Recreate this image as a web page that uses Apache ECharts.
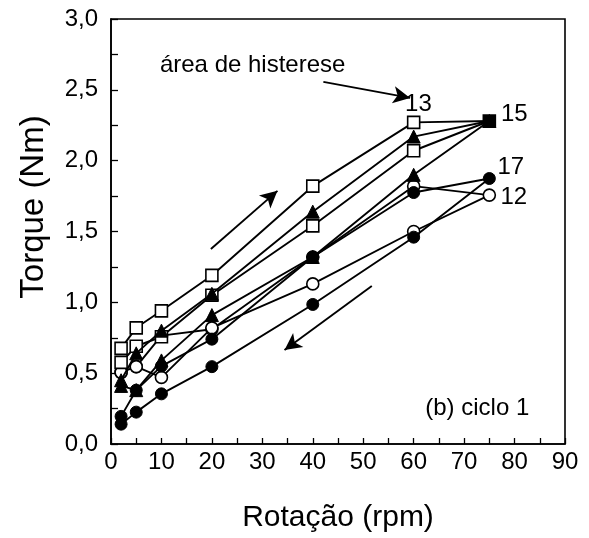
<!DOCTYPE html>
<html>
<head>
<meta charset="utf-8">
<script src="https://cdn.jsdelivr.net/npm/echarts@6/dist/echarts.min.js"></script>
<style>
html,body{margin:0;padding:0;background:#fff;}
#chart{width:589px;height:538px;}
</style>
</head>
<body>
<div id="chart"></div>
<script>
// rotation values along each hysteresis loop (up then down)
const rpm = [2, 5, 10, 20, 40, 60, 75, 60, 40, 20, 10, 5, 2];
const squares13 = [0.675, 0.82, 0.94, 1.19, 1.82, 2.27, 2.28, 2.07, 1.54, 1.05, 0.757, 0.69, 0.576];
const triangles15 = [0.45, 0.64, 0.80, 1.06, 1.64, 2.17, 2.28, 1.90, 1.32, 0.91, 0.59, 0.38, 0.41];
const openCircles12 = [0.506, 0.546, 0.765, 0.81, 1.32, 1.82, 1.757, 1.50, 1.13, 0.82, 0.47, 0.546, 0.506];
const filledCircles17 = [0.195, 0.38, 0.55, 0.74, 1.32, 1.775, 1.874, 1.46, 0.985, 0.546, 0.354, 0.225, 0.14];

const xTicks = [0, 10, 20, 30, 40, 50, 60, 70, 80, 90];
const yTicks = ['0,0', '0,5', '1,0', '1,5', '2,0', '2,5', '3,0'];

// annotations (data coordinates)
const seriesLabels = [
  { text: '13', x: 58.3, y: 2.40 },
  { text: '15', x: 77.3, y: 2.325 },
  { text: '17', x: 76.6, y: 1.95 },
  { text: '12', x: 77.2, y: 1.74 }
];
const noteHyst = { text: 'área de histerese', x: 9.7, y: 2.67 };
const noteCycle = { text: '(b) ciclo 1', x: 62.3, y: 0.25 };
const arrows = [
  [[42.1, 2.556], [59.3, 2.443]],
  [[19.8, 1.377], [33.0, 1.787]],
  [[51.7, 1.115], [34.4, 0.663]]
];

const FONT = 'Liberation Sans';
const chart = echarts.init(document.getElementById('chart'), null, { renderer: 'canvas' });

function pts(ys) { return rpm.map((x, i) => [x, ys[i]]); }

const openStyle = { color: '#fff', borderColor: '#000', borderWidth: 1.6 };
const filledStyle = { color: '#000', borderColor: '#000', borderWidth: 1 };
const lineStyle = { color: '#000', width: 1.9 };

const sqData = pts(squares13).map((p, i) => rpm[i] === 75 ? { value: p, itemStyle: { color: '#000' } } : p);

chart.setOption({
  animation: false,
  backgroundColor: '#fff',
  grid: { left: 111, top: 19, right: 24, bottom: 92, show: true, borderColor: '#000', borderWidth: 1.6, backgroundColor: 'transparent' },
  xAxis: {
    type: 'value', min: 0, max: 90, interval: 5,
    name: 'Rotação (rpm)', nameLocation: 'middle', nameGap: 59,
    nameTextStyle: { fontFamily: FONT, fontSize: 30, color: '#000' },
    axisLine: { show: true, lineStyle: { color: '#000', width: 1.6 } },
    axisTick: { show: true, inside: true, length: 6, lineStyle: { color: '#000', width: 1.3 } },
    axisLabel: {
      fontFamily: FONT, fontSize: 24, color: '#000', margin: 6,
      formatter: v => xTicks.indexOf(v) >= 0 ? String(v) : ''
    },
    splitLine: { show: false }
  },
  yAxis: {
    type: 'value', min: 0, max: 3, interval: 0.5,
    axisLine: { show: true, lineStyle: { color: '#000', width: 1.6 } },
    axisTick: { show: true, inside: true, length: 7, lineStyle: { color: '#000', width: 1.3 } },
    minorTick: { show: true, splitNumber: 2, length: 7, lineStyle: { color: '#000', width: 1.3 } },
    axisLabel: {
      fontFamily: FONT, fontSize: 24, color: '#000', margin: 13,
      formatter: v => yTicks[Math.round(v * 2)]
    },
    splitLine: { show: false }
  },
  series: [
    {
      name: '12', type: 'line', data: pts(openCircles12), symbol: 'circle', symbolSize: 12,
      lineStyle, itemStyle: openStyle, z: 2
    },
    {
      name: '17', type: 'line', data: pts(filledCircles17), symbol: 'circle', symbolSize: 12,
      lineStyle, itemStyle: filledStyle, z: 3
    },
    {
      name: '13', type: 'line', data: sqData, symbol: 'rect', symbolSize: 12,
      lineStyle, itemStyle: openStyle, z: 4
    },
    {
      name: '15', type: 'line', data: pts(triangles15), symbol: 'triangle', symbolSize: 13,
      lineStyle, itemStyle: filledStyle, z: 5
    },
    {
      name: 'annotations', type: 'line', data: [], z: 6,
      markLine: {
        silent: true, symbol: ['none', 'arrow'], symbolSize: [13, 17],
        lineStyle: { color: '#000', width: 1.9, type: 'solid' },
        label: { show: false },
        data: arrows.map(a => [{ coord: a[0] }, { coord: a[1] }])
      }
    }
  ]
});

function txt(o, align) {
  const p = chart.convertToPixel({ gridIndex: 0 }, [o.x, o.y]);
  return {
    type: 'text', x: p[0], y: p[1],
    style: { text: o.text, fontFamily: FONT, fontSize: 24, fill: '#000', align: align || 'left', verticalAlign: 'middle' },
    z: 100
  };
}
const g = seriesLabels.map(o => txt(o)).concat([txt(noteHyst), txt(noteCycle)]);
g.push({
  type: 'text', x: 34, y: 207, rotation: Math.PI / 2,
  style: { text: 'Torque (Nm)', fontFamily: FONT, fontSize: 33, fill: '#000', align: 'center', verticalAlign: 'middle' },
  z: 100
});
chart.setOption({ graphic: g });
</script>
</body>
</html>
